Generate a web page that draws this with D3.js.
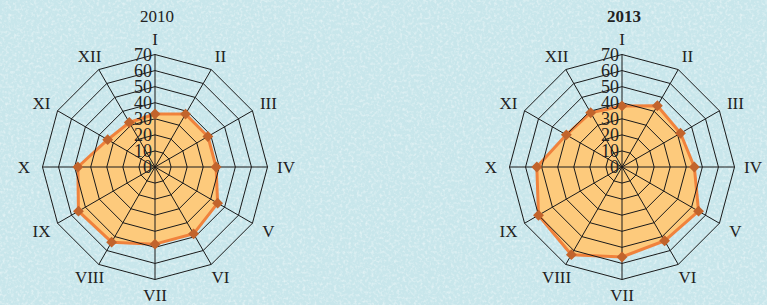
<!DOCTYPE html>
<html>
<head>
<meta charset="utf-8">
<script src="https://cdn.jsdelivr.net/npm/d3@7"></script>
<style>
  body { margin: 0; background: #cfeaee; }
  svg { display: block; }
  text { font-family: "Times New Roman", "Liberation Serif", Times, serif; }
</style>
</head>
<body>
<script>
// chart size
const width = 767;
const height = 305;

// months (axes), tick values and the two years
const months = ["I", "II", "III", "IV", "V", "VI", "VII", "VIII", "IX", "X", "XI", "XII"];
const ticks = [0, 10, 20, 30, 40, 50, 60, 70];
const values2010 = [33, 38, 38, 38, 45, 48, 48, 54, 55, 48, 34, 32];
const values2013 = [38, 44, 42, 45, 55, 53, 56, 63, 60, 53, 40, 39];

const svg = d3.select("body").append("svg")
  .attr("width", width)
  .attr("height", height);

// paper-like texture for the background
const defs = svg.append("defs");
const filt = defs.append("filter").attr("id", "paper")
  .attr("x", 0).attr("y", 0).attr("width", "100%").attr("height", "100%");
filt.append("feTurbulence").attr("type", "fractalNoise")
  .attr("baseFrequency", 0.35).attr("numOctaves", 2).attr("seed", 3).attr("result", "n");
filt.append("feColorMatrix").attr("in", "n").attr("type", "matrix")
  .attr("values", "0 0 0 0 1  0 0 0 0 1  0 0 0 0 1  0 0 0 -1.1 0.6");

svg.append("rect").attr("width", width).attr("height", height).attr("fill", "#c8e6eb");
svg.append("rect").attr("width", width).attr("height", height).attr("filter", "url(#paper)");

const r = d3.scaleLinear().domain([0, 70]).range([0, 112.5]);
const angle = d3.scalePoint().domain(months).range([0, 2 * Math.PI * 11 / 12]);

function pt(m, v) {
  const a = angle(m);
  return [r(v) * Math.sin(a), -r(v) * Math.cos(a)];
}

function radar(cx, cy, title, bold, values) {
  const g = svg.append("g").attr("transform", `translate(${cx},${cy})`);

  g.append("text")
    .attr("x", 2).attr("y", -151)
    .attr("text-anchor", "middle")
    .attr("dominant-baseline", "central")
    .style("font-size", "17px")
    .style("font-weight", bold ? "bold" : "normal")
    .attr("fill", "#222")
    .text(title);

  // filled area
  const line = d3.lineRadial()
    .angle(d => angle(d.m))
    .radius(d => r(d.v))
    .curve(d3.curveLinearClosed);
  const data = months.map((m, i) => ({ m: m, v: values[i] }));

  g.append("path")
    .attr("d", line(data))
    .attr("fill", "#fdca7c")
    .attr("stroke", "#f0823c")
    .attr("stroke-width", 3)
    .attr("stroke-linejoin", "round");

  // grid rings
  ticks.slice(1).forEach(t => {
    g.append("path")
      .attr("d", line(months.map(m => ({ m: m, v: t }))))
      .attr("fill", "none")
      .attr("stroke", "#1a1a1a")
      .attr("stroke-width", 1);
  });

  // spokes
  g.selectAll(".spoke").data(months).enter().append("line")
    .attr("x1", 0).attr("y1", 0)
    .attr("x2", d => pt(d, 70)[0])
    .attr("y2", d => pt(d, 70)[1])
    .attr("stroke", "#1a1a1a")
    .attr("stroke-width", 1);

  // markers
  g.selectAll(".mark").data(data).enter().append("path")
    .attr("d", d3.symbol().type(d3.symbolDiamond2).size(75))
    .attr("transform", d => `translate(${pt(d.m, d.v)[0]},${pt(d.m, d.v)[1]})`)
    .attr("fill", "#c2642c");

  // tick labels
  g.selectAll(".tick").data(ticks).enter().append("text")
    .attr("x", -3)
    .attr("y", d => -r(d))
    .attr("text-anchor", "end")
    .attr("dominant-baseline", "central")
    .style("font-size", "18px")
    .attr("fill", "#222")
    .text(d => d);

  // month labels
  g.selectAll(".lab").data(months).enter().append("text")
    .attr("x", d => 131 * Math.sin(angle(d)))
    .attr("y", d => -128 * Math.cos(angle(d)))
    .attr("text-anchor", "middle")
    .attr("dominant-baseline", "central")
    .style("font-size", "17px")
    .attr("fill", "#222")
    .text(d => d);
}

radar(155, 167, "2010", false, values2010);
radar(622, 167, "2013", true, values2013);
</script>
</body>
</html>
